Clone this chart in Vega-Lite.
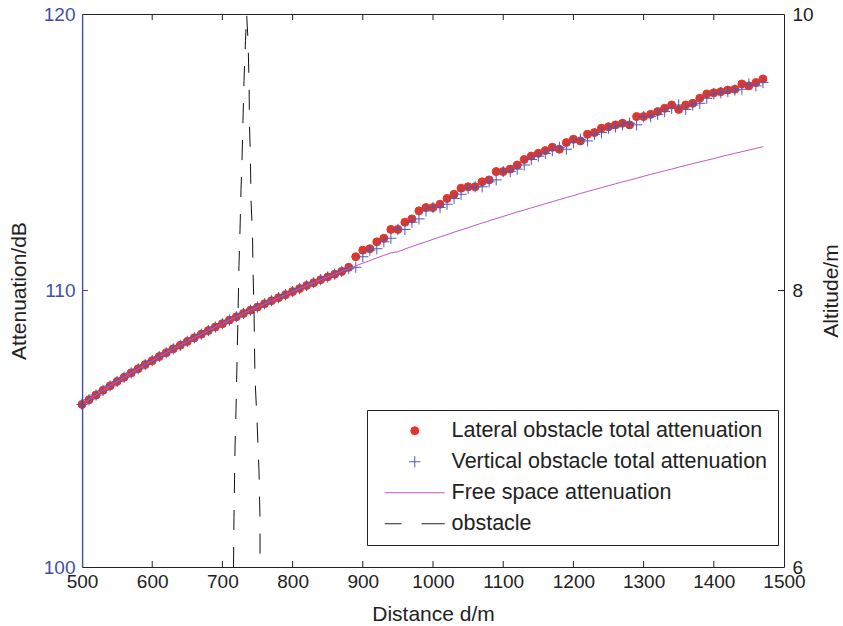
{
"$schema": "https://vega.github.io/schema/vega-lite/v6.json",
"width": 702, "height": 553,
"autosize": {"type": "none"},
"padding": {"left": 82, "top": 14, "right": 59, "bottom": 59},
"background": "white",
"config": {
  "font": "Liberation Sans",
  "view": {"stroke": "#222", "strokeWidth": 1},
  "axis": {"labelFont": "Liberation Sans", "titleFont": "Liberation Sans", "labelFontSize": 19, "titleFontSize": 21, "titleFontWeight": "normal", "labelColor": "#222", "titleColor": "#222", "grid": false, "domain": false, "ticks": false, "labelFlush": false, "labelOverlap": false, "format": "d"},
  "legend": {"labelFont": "Liberation Sans", "labelFontSize": 21.5, "labelColor": "#222", "labelLimit": 500, "strokeColor": "#222", "fillColor": "white", "padding": 10, "rowPadding": 8, "symbolSize": 64, "symbolStrokeWidth": 1, "symbolOffset": 27, "labelOffset": 26}
},
"datasets": {
"att": [
{"d":500,"L":105.88,"V":105.88,"F":105.88},
{"d":510,"L":106.05,"V":106.05,"F":106.05},
{"d":520,"L":106.22,"V":106.22,"F":106.22},
{"d":530,"L":106.39,"V":106.39,"F":106.39},
{"d":540,"L":106.55,"V":106.55,"F":106.55},
{"d":550,"L":106.71,"V":106.71,"F":106.71},
{"d":560,"L":106.86,"V":106.86,"F":106.86},
{"d":570,"L":107.02,"V":107.02,"F":107.02},
{"d":580,"L":107.17,"V":107.17,"F":107.17},
{"d":590,"L":107.32,"V":107.32,"F":107.32},
{"d":600,"L":107.46,"V":107.46,"F":107.46},
{"d":610,"L":107.61,"V":107.61,"F":107.61},
{"d":620,"L":107.75,"V":107.75,"F":107.75},
{"d":630,"L":107.89,"V":107.89,"F":107.89},
{"d":640,"L":108.02,"V":108.02,"F":108.02},
{"d":650,"L":108.16,"V":108.16,"F":108.16},
{"d":660,"L":108.29,"V":108.29,"F":108.29},
{"d":670,"L":108.42,"V":108.42,"F":108.42},
{"d":680,"L":108.55,"V":108.55,"F":108.55},
{"d":690,"L":108.68,"V":108.68,"F":108.68},
{"d":700,"L":108.80,"V":108.80,"F":108.80},
{"d":710,"L":108.93,"V":108.93,"F":108.93},
{"d":720,"L":109.05,"V":109.05,"F":109.05},
{"d":730,"L":109.17,"V":109.17,"F":109.17},
{"d":740,"L":109.29,"V":109.29,"F":109.29},
{"d":750,"L":109.40,"V":109.40,"F":109.40},
{"d":760,"L":109.52,"V":109.52,"F":109.52},
{"d":770,"L":109.63,"V":109.63,"F":109.63},
{"d":780,"L":109.74,"V":109.74,"F":109.74},
{"d":790,"L":109.85,"V":109.85,"F":109.85},
{"d":800,"L":109.96,"V":109.96,"F":109.96},
{"d":810,"L":110.07,"V":110.07,"F":110.07},
{"d":820,"L":110.18,"V":110.18,"F":110.18},
{"d":830,"L":110.28,"V":110.28,"F":110.28},
{"d":840,"L":110.39,"V":110.39,"F":110.39},
{"d":850,"L":110.49,"V":110.49,"F":110.49},
{"d":860,"L":110.59,"V":110.59,"F":110.59},
{"d":870,"L":110.69,"V":110.69,"F":110.69},
{"d":880,"L":110.84,"V":110.79,"F":110.79},
{"d":890,"L":111.22,"V":110.84,"F":110.89},
{"d":900,"L":111.46,"V":111.22,"F":110.99},
{"d":910,"L":111.51,"V":111.46,"F":111.08},
{"d":920,"L":111.76,"V":111.51,"F":111.18},
{"d":930,"L":111.89,"V":111.76,"F":111.27},
{"d":940,"L":112.21,"V":111.89,"F":111.36},
{"d":950,"L":112.21,"V":112.21,"F":111.40},
{"d":960,"L":112.47,"V":112.21,"F":111.50},
{"d":970,"L":112.59,"V":112.47,"F":111.59},
{"d":980,"L":112.88,"V":112.59,"F":111.68},
{"d":990,"L":113.00,"V":112.88,"F":111.76},
{"d":1000,"L":113.00,"V":113.00,"F":111.85},
{"d":1010,"L":113.12,"V":113.00,"F":111.94},
{"d":1020,"L":113.33,"V":113.12,"F":112.02},
{"d":1030,"L":113.48,"V":113.33,"F":112.11},
{"d":1040,"L":113.70,"V":113.48,"F":112.19},
{"d":1050,"L":113.75,"V":113.70,"F":112.27},
{"d":1060,"L":113.75,"V":113.75,"F":112.36},
{"d":1070,"L":113.93,"V":113.75,"F":112.44},
{"d":1080,"L":114.00,"V":113.93,"F":112.52},
{"d":1090,"L":114.30,"V":114.00,"F":112.60},
{"d":1100,"L":114.30,"V":114.30,"F":112.68},
{"d":1110,"L":114.39,"V":114.30,"F":112.76},
{"d":1120,"L":114.54,"V":114.39,"F":112.84},
{"d":1130,"L":114.74,"V":114.54,"F":112.91},
{"d":1140,"L":114.86,"V":114.74,"F":112.99},
{"d":1150,"L":114.96,"V":114.86,"F":113.06},
{"d":1160,"L":115.06,"V":114.96,"F":113.14},
{"d":1170,"L":115.18,"V":115.06,"F":113.21},
{"d":1180,"L":115.11,"V":115.18,"F":113.29},
{"d":1190,"L":115.35,"V":115.11,"F":113.36},
{"d":1200,"L":115.47,"V":115.35,"F":113.43},
{"d":1210,"L":115.41,"V":115.47,"F":113.51},
{"d":1220,"L":115.65,"V":115.41,"F":113.58},
{"d":1230,"L":115.71,"V":115.65,"F":113.65},
{"d":1240,"L":115.87,"V":115.71,"F":113.72},
{"d":1250,"L":115.92,"V":115.87,"F":113.79},
{"d":1260,"L":115.99,"V":115.92,"F":113.86},
{"d":1270,"L":116.05,"V":115.99,"F":113.93},
{"d":1280,"L":115.99,"V":116.05,"F":113.99},
{"d":1290,"L":116.29,"V":115.99,"F":114.06},
{"d":1300,"L":116.29,"V":116.29,"F":114.13},
{"d":1310,"L":116.37,"V":116.29,"F":114.20},
{"d":1320,"L":116.47,"V":116.37,"F":114.26},
{"d":1330,"L":116.59,"V":116.47,"F":114.33},
{"d":1340,"L":116.71,"V":116.59,"F":114.39},
{"d":1350,"L":116.55,"V":116.71,"F":114.46},
{"d":1360,"L":116.71,"V":116.55,"F":114.52},
{"d":1370,"L":116.77,"V":116.71,"F":114.59},
{"d":1380,"L":116.95,"V":116.77,"F":114.65},
{"d":1390,"L":117.11,"V":116.95,"F":114.71},
{"d":1400,"L":117.15,"V":117.11,"F":114.77},
{"d":1410,"L":117.19,"V":117.15,"F":114.84},
{"d":1420,"L":117.25,"V":117.19,"F":114.90},
{"d":1430,"L":117.28,"V":117.25,"F":114.96},
{"d":1440,"L":117.47,"V":117.28,"F":115.02},
{"d":1450,"L":117.40,"V":117.47,"F":115.08},
{"d":1460,"L":117.52,"V":117.40,"F":115.14},
{"d":1470,"L":117.65,"V":117.52,"F":115.20}
],
"obstacle": [
{"i":1,"d":715.8,"alt":6.0},
{"i":2,"d":716.5,"alt":6.36},
{"i":3,"d":718.0,"alt":6.87},
{"i":4,"d":719.4,"alt":7.14},
{"i":5,"d":722.2,"alt":7.81},
{"i":6,"d":723.6,"alt":8.18},
{"i":7,"d":725.1,"alt":8.44},
{"i":8,"d":726.5,"alt":8.73},
{"i":9,"d":727.9,"alt":8.94},
{"i":10,"d":729.3,"alt":9.23},
{"i":11,"d":730.8,"alt":9.52},
{"i":12,"d":732.9,"alt":9.81},
{"i":13,"d":734.5,"alt":10.0},
{"i":14,"d":736.5,"alt":9.81},
{"i":15,"d":737.9,"alt":9.52},
{"i":16,"d":738.6,"alt":9.20},
{"i":17,"d":740.0,"alt":8.94},
{"i":18,"d":740.7,"alt":8.66},
{"i":19,"d":742.9,"alt":8.40},
{"i":20,"d":743.6,"alt":8.15},
{"i":21,"d":745.0,"alt":7.86},
{"i":22,"d":746.4,"alt":7.37},
{"i":23,"d":749.3,"alt":7.06},
{"i":24,"d":752.1,"alt":6.70},
{"i":25,"d":753.6,"alt":6.34},
{"i":26,"d":753.6,"alt":6.0}
],
"xticks": [{"v":600},{"v":700},{"v":800},{"v":900},{"v":1000},{"v":1100},{"v":1200},{"v":1300},{"v":1400}]
},
"layer": [
 {"layer": [
  {
   "data": {"name": "att"},
   "transform": [{"fold": ["L", "V"], "as": ["series", "value"]}],
   "mark": {"type": "point", "size": 64, "strokeWidth": 1, "opacity": 1},
   "encoding": {
    "x": {"field": "d", "type": "quantitative", "title": "Distance d/m", "scale": {"domain": [500, 1500], "nice": false},
      "axis": {"orient": "bottom", "values": [500,600,700,800,900,1000,1100,1200,1300,1400,1500], "labelPadding": 5, "titlePadding": 12}},
    "y": {"field": "value", "type": "quantitative", "title": "Attenuation/dB", "scale": {"domain": [100, 120], "nice": false, "zero": false},
      "axis": {"orient": "left", "values": [100, 110, 120], "labelColor": "#3F4FA8", "labelPadding": 7, "titlePadding": 14}},
    "shape": {"field": "series", "type": "nominal",
      "scale": {"domain": ["L", "V", "F", "O"], "range": ["circle", "M-1.4,0H1.4M0,-1.4V1.4", "M-7.5,0H7.5", "M-7.5,0H-3.3M1.7,0H7.5"]},
      "legend": {"orient": "none", "legendX": 285, "legendY": 396, "title": null}},
    "fill": {"field": "series", "type": "nominal",
      "scale": {"domain": ["L", "V", "F", "O"], "range": ["#E0362C", "transparent", "transparent", "transparent"]},
      "legend": {"orient": "none", "legendX": 285, "legendY": 396, "title": null}},
    "stroke": {"field": "series", "type": "nominal",
      "scale": {"domain": ["L", "V", "F", "O"], "range": ["#E0362C", "#4A5BBA", "#C455C4", "#222222"]},
      "legend": {"orient": "none", "legendX": 285, "legendY": 396, "title": null,
        "labelExpr": "datum.label == 'L' ? 'Lateral obstacle total attenuation' : datum.label == 'V' ? 'Vertical obstacle total attenuation' : datum.label == 'F' ? 'Free space attenuation' : 'obstacle'"}}
   }
  },
  {
   "data": {"name": "att"},
   "mark": {"type": "line", "color": "#C455C4", "strokeWidth": 1},
   "encoding": {
    "x": {"field": "d", "type": "quantitative", "title": "Distance d/m"},
    "y": {"field": "F", "type": "quantitative", "title": "Attenuation/dB"}
   }
  },
  {
   "data": {"name": "xticks"},
   "mark": {"type": "tick", "orient": "vertical", "size": 6, "thickness": 1, "color": "#222", "opacity": 1, "yOffset": -3},
   "encoding": {"x": {"field": "v", "type": "quantitative", "title": "Distance d/m"}, "y": {"datum": 100}}
  },
  {
   "data": {"name": "xticks"},
   "mark": {"type": "tick", "orient": "vertical", "size": 6, "thickness": 1, "color": "#222", "opacity": 1, "yOffset": 3},
   "encoding": {"x": {"field": "v", "type": "quantitative", "title": "Distance d/m"}, "y": {"datum": 120}}
  },
  {
   "data": {"values": [{"v": 110}]},
   "mark": {"type": "tick", "orient": "horizontal", "size": 6, "thickness": 1, "color": "#3F4FA8", "opacity": 1, "xOffset": 3},
   "encoding": {"x": {"datum": 500}, "y": {"field": "v", "type": "quantitative", "title": "Attenuation/dB"}}
  },
  {
   "data": {"values": [{"v": 110}]},
   "mark": {"type": "tick", "orient": "horizontal", "size": 6, "thickness": 1, "color": "#222", "opacity": 1, "xOffset": -3},
   "encoding": {"x": {"datum": 1500}, "y": {"field": "v", "type": "quantitative", "title": "Attenuation/dB"}}
  },
  {
   "data": {"values": [{"v": 110}]},
   "mark": {"type": "tick", "orient": "vertical", "size": 553, "thickness": 1.4, "color": "#3F4FA8", "opacity": 1, "xOffset": 0.6},
   "encoding": {"x": {"datum": 500}, "y": {"field": "v", "type": "quantitative", "title": "Attenuation/dB"}}
  }
 ]},
 {
  "data": {"name": "obstacle"},
  "mark": {"type": "line", "color": "#111", "strokeWidth": 1, "strokeDash": [20, 17], "clip": true},
  "encoding": {
   "x": {"field": "d", "type": "quantitative", "title": "Distance d/m"},
   "y": {"field": "alt", "type": "quantitative", "title": "Altitude/m", "scale": {"domain": [6, 10], "nice": false, "zero": false},
     "axis": {"orient": "right", "values": [6, 8, 10], "titleAngle": -90, "titleBaseline": "top", "labelPadding": 8, "titlePadding": 7}},
   "order": {"field": "i", "type": "quantitative"}
  }
 }
],
"resolve": {"scale": {"y": "independent"}}
}
